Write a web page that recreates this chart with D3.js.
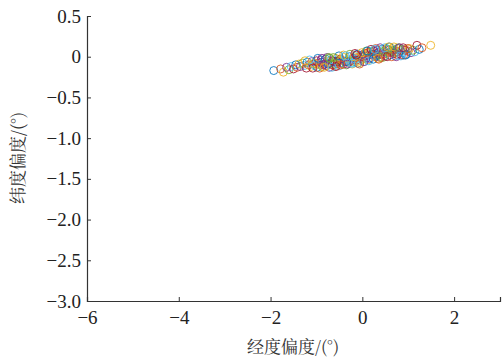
<!DOCTYPE html>
<html><head><meta charset="utf-8">
<script src="https://cdn.jsdelivr.net/npm/d3@7"></script>
<style>body{margin:0;background:#fff}</style>
</head><body>
<svg id="chart" width="502" height="359"></svg>
<script>
const xTicks = [-6, -4, -2, 0, 2];
const yTicks = [0.5, 0, -0.5, -1.0, -1.5, -2.0, -2.5, -3.0];
const colors = ["#0072BD", "#D95319", "#EDB120", "#7E2F8E", "#77AC30", "#4DBEEE", "#A2142F"];
const lon = [
-1.93,-1.78,-1.72,-1.65,-1.60,-1.55,-1.50,-1.45,-1.42,-1.38,
-1.35,-1.30,-1.27,-1.22,-1.20,-1.17,-1.12,-1.10,-1.07,-1.03,
-1.00,-0.98,-0.95,-0.92,-0.90,-0.87,-0.85,-0.82,-0.80,-0.78,
-0.75,-0.72,-0.70,-0.68,-0.65,-0.62,-0.60,-0.58,-0.55,-0.52,
-0.50,-0.48,-0.45,-0.42,-0.40,-0.38,-0.35,-0.32,-0.30,-0.28,
-0.25,-0.22,-0.20,-0.18,-0.15,-0.12,-0.10,-0.08,-0.05,-0.02,
0.00,0.03,0.05,0.08,0.10,0.12,0.15,0.18,0.20,0.22,
0.25,0.28,0.30,0.32,0.35,0.38,0.40,0.42,0.45,0.48,
0.50,0.52,0.55,0.58,0.60,0.62,0.65,0.68,0.70,0.72,
0.75,0.78,0.80,0.83,0.85,0.88,0.90,0.93,0.96,1.00,
1.03,1.06,1.10,1.14,1.19,1.24,1.30,1.49,
-0.90,-0.60,-0.30,0.00,0.30,0.60,-0.45,0.15,0.45,-0.15,
0.75,-0.75,0.05,-0.05,0.35,0.55,-0.25,-0.55,0.25,0.90,
-1.05,-0.85,0.65,0.85,-0.65,-0.35,0.12,-0.18,0.40,0.70,
-1.15,-1.08,-0.97,-0.93,-0.83,-0.77,-0.71,-0.66,-0.57,-0.51,
-0.47,-0.41,-0.33,-0.27,-0.21,-0.16,-0.11,-0.06,-0.01,0.04,
0.09,0.14,0.19,0.24,0.29,0.34,0.39,0.44,0.49,0.54,
0.59,0.64,0.69,0.74,0.79,0.84,0.89,0.94,0.99,-1.25,
-0.88,-0.63,-0.37,-0.13,0.11,0.36,0.57,0.81,-0.73,0.27];
const lat = [
-0.17,-0.15,-0.19,-0.13,-0.16,-0.12,-0.15,-0.10,-0.13,-0.09,
-0.12,-0.08,-0.11,-0.14,-0.07,-0.10,-0.12,-0.06,-0.09,-0.11,
-0.05,-0.13,-0.08,-0.10,-0.04,-0.12,-0.07,-0.09,-0.03,-0.11,
-0.06,-0.13,-0.08,-0.04,-0.10,-0.06,-0.12,-0.02,-0.08,-0.05,
-0.11,-0.03,-0.07,-0.09,-0.01,-0.06,-0.10,-0.04,-0.07,0.00,
-0.05,-0.09,-0.02,-0.06,0.01,-0.04,-0.08,-0.01,-0.05,0.02,
-0.03,-0.06,0.01,-0.02,0.04,-0.04,0.02,0.06,-0.01,0.03,
0.07,0.00,0.04,0.08,0.02,0.06,-0.01,0.09,0.03,0.07,
0.01,0.10,0.05,0.08,0.02,0.06,0.10,0.04,0.08,0.01,
0.06,0.10,0.04,0.07,0.02,0.09,0.05,0.08,0.03,0.07,
0.10,0.05,0.08,0.06,0.14,0.09,0.11,0.14,
-0.07,-0.09,-0.03,0.00,0.01,0.05,-0.04,-0.02,0.06,-0.03,
0.03,-0.09,0.04,-0.07,0.05,0.09,-0.08,-0.06,0.03,0.02,
-0.08,-0.10,0.07,0.06,-0.05,-0.06,0.05,0.00,0.03,0.05,
-0.04,-0.14,-0.02,-0.14,-0.13,-0.01,-0.02,-0.13,-0.12,0.01,
-0.10,0.02,-0.09,0.03,-0.08,0.04,0.03,-0.09,0.05,-0.06,
0.07,-0.05,0.09,-0.03,0.10,-0.02,0.11,-0.01,0.11,0.00,
0.12,0.00,0.12,0.00,0.11,0.01,0.11,0.02,0.10,-0.05,
-0.02,-0.01,0.01,0.02,0.07,-0.03,0.12,0.11,-0.01,0.09];

const svg = d3.select("#chart");
const x = d3.scaleLinear().domain([-6, 3]).range([87, 500]);
const y = d3.scaleLinear().domain([-3, 0.5]).range([301, 16]);
const fmtY = d => d === 0 ? "0" : d3.format(".1f")(d).replace("-", "\u2212");
const fmtX = d => String(d).replace("-", "\u2212");

svg.append("g").selectAll("circle").data(lon.map((v, i) => [v, lat[i], i]))
  .enter().append("circle")
  .attr("cx", d => x(d[0])).attr("cy", d => y(d[1])).attr("r", 4)
  .attr("fill", "none").attr("stroke", d => colors[d[2] % colors.length])
  .attr("stroke-width", 1).attr("stroke-opacity", 0.85);

const axisColor = "#333";
const xAxis = svg.append("g").attr("transform", "translate(0,301)")
  .call(d3.axisBottom(x).tickValues(xTicks).tickSize(-4).tickPadding(4).tickFormat(fmtX));
const yAxis = svg.append("g").attr("transform", "translate(87,0)")
  .call(d3.axisLeft(y).tickValues(yTicks).tickSize(-4).tickPadding(6).tickFormat(fmtY));
[xAxis, yAxis].forEach(g => {
  g.attr("font-family", "Liberation Serif").attr("font-size", 19);
  g.select(".domain").attr("stroke", axisColor).attr("stroke-width", 1.2);
  g.selectAll(".tick line").attr("stroke", axisColor);
  g.selectAll("text").attr("fill", "#222").attr("font-family", "Liberation Serif").attr("font-size", 19);
});
xAxis.selectAll("text").attr("dy", "0.98em");

svg.append("text").attr("x", 293).attr("y", 353).attr("text-anchor", "middle")
  .attr("font-family", "Noto Serif CJK SC, Noto Sans CJK SC").attr("font-size", 17).attr("fill", "#333")
  .text("经度偏度/(°)");
svg.append("text").attr("transform", "translate(24,158) rotate(-90)").attr("text-anchor", "middle")
  .attr("font-family", "Noto Serif CJK SC, Noto Sans CJK SC").attr("font-size", 17).attr("fill", "#333")
  .text("纬度偏度/(°)");
</script>
</body></html>
